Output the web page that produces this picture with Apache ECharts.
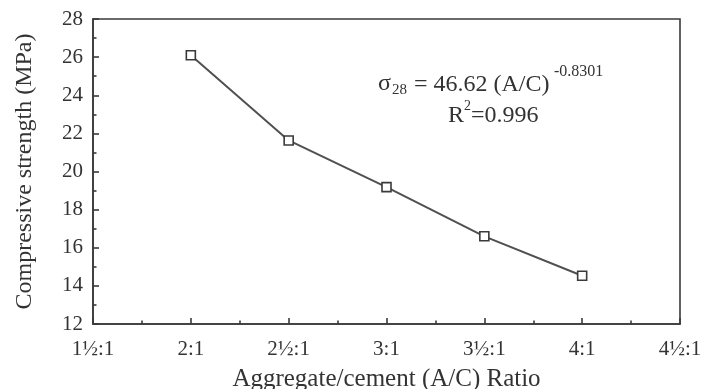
<!DOCTYPE html>
<html>
<head>
<meta charset="utf-8">
<script src="https://cdn.jsdelivr.net/npm/echarts@6/dist/echarts.min.js"></script>
<style>html,body{margin:0;padding:0;background:#fff;}#c{width:703px;height:389px;}</style>
</head>
<body>
<div id="c"></div>
<script>
const ratios = [2, 2.5, 3, 3.5, 4];
const strength = [26.1, 21.63, 19.18, 16.6, 14.53];
const xTickLabels = {1.5: '1½:1', 2: '2:1', 2.5: '2½:1', 3: '3:1', 3.5: '3½:1', 4: '4:1', 4.5: '4½:1'};
const xTitle = 'Aggregate/cement (A/C) Ratio';
const yTitle = 'Compressive strength (MPa)';

const font = 'Liberation Serif';
const axisColor = '#3a3a3a';
const textColor = '#333';
const chart = echarts.init(document.getElementById('c'));
const axisCommon = {
  axisLine: {show: true, onZero: false, lineStyle: {color: axisColor, width: 1.6}},
  axisTick: {show: true, inside: true, length: 6, lineStyle: {color: axisColor, width: 1.6}},
  minorTick: {show: true, splitNumber: 2, length: 3.5, lineStyle: {color: axisColor, width: 1.6}},
  splitLine: {show: false},
  nameLocation: 'middle'
};
chart.setOption({
  animation: false,
  grid: {left: 93, right: 23, top: 19, bottom: 65, containLabel: false, outerBoundsMode: 'none',
    show: true, borderColor: axisColor, borderWidth: 1.6},
  xAxis: Object.assign({}, axisCommon, {
    type: 'value', min: 1.5, max: 4.5, interval: 0.5,
    name: xTitle, nameGap: 43,
    nameTextStyle: {fontFamily: font, fontSize: 25, color: textColor},
    axisLabel: {fontFamily: font, fontSize: 21, color: textColor, margin: 15,
      formatter: v => xTickLabels[v] || ''}
  }),
  yAxis: Object.assign({}, axisCommon, {
    type: 'value', min: 12, max: 28, interval: 2,
    name: yTitle, nameGap: 56,
    nameTextStyle: {fontFamily: font, fontSize: 24, color: textColor},
    axisLabel: {fontFamily: font, fontSize: 21, color: textColor, margin: 10}
  }),
  series: [{
    type: 'line',
    data: ratios.map((r, i) => [r, strength[i]]),
    symbol: 'rect', symbolSize: 9,
    lineStyle: {color: '#505050', width: 2},
    itemStyle: {color: '#fff', borderColor: '#3a3a3a', borderWidth: 1.6}
  }],
  graphic: [
    {type: 'text', left: 378, top: 72, style: {text: 'σ', font: '24px "Liberation Serif"', fill: textColor}},
    {type: 'text', left: 392, top: 83, style: {text: '28', font: '15px "Liberation Serif"', fill: textColor}},
    {type: 'text', left: 414, top: 73, style: {text: '= 46.62 (A/C)', font: '24px "Liberation Serif"', fill: textColor}},
    {type: 'text', left: 554, top: 64, style: {text: '-0.8301', font: '16px "Liberation Serif"', fill: textColor}},
    {type: 'text', left: 448, top: 104, style: {text: 'R', font: '24px "Liberation Serif"', fill: textColor}},
    {type: 'text', left: 464, top: 99, style: {text: '2', font: '14px "Liberation Serif"', fill: textColor}},
    {type: 'text', left: 471, top: 104, style: {text: '=0.996', font: '24px "Liberation Serif"', fill: textColor}}
  ]
});
</script>
</body>
</html>
